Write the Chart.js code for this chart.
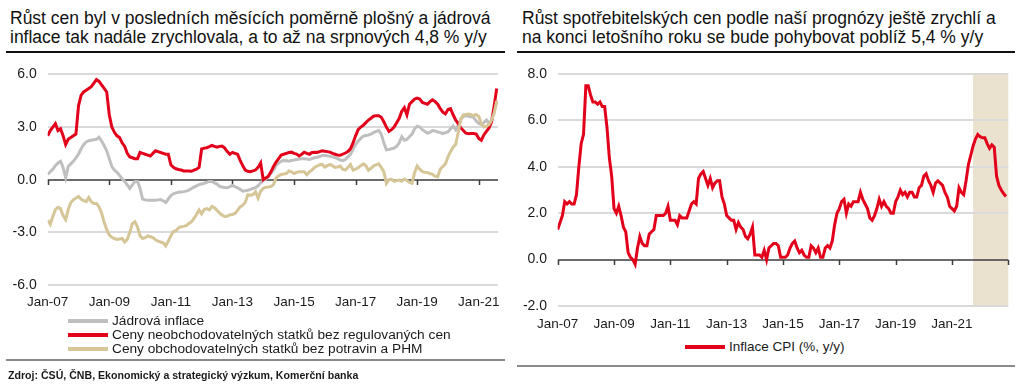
<!DOCTYPE html>
<html><head><meta charset="utf-8">
<script src="https://cdn.jsdelivr.net/npm/chart.js@4.4.1/dist/chart.umd.min.js"></script>
<style>
body{margin:0;width:1024px;height:390px;background:#fff;overflow:hidden;position:relative;font-family:"Liberation Sans",Arial,sans-serif;color:#1a1a1a}
.title{position:absolute;top:9px;font-size:17.5px;line-height:19px;color:#111;white-space:nowrap}
.rule{position:absolute;height:2px;background:#111}
.grule{position:absolute;height:2px;background:#8a8a8a}
canvas{position:absolute}
.lg{position:absolute;font-size:13.7px;line-height:14px;white-space:nowrap;color:#1a1a1a}
.lgline{position:absolute;height:4px;width:40px}
.src{position:absolute;left:8px;top:369px;font-size:10.6px;font-weight:bold;color:#1a1a1a;white-space:nowrap;line-height:12px}
</style></head><body>
<div class="title" style="left:10px">Růst cen byl v posledních měsících poměrně plošný a jádrová<br>inflace tak nadále zrychlovala, a to až na srpnových 4,8 % y/y</div>
<div class="title" style="left:522px">Růst spotřebitelských cen podle naší prognózy ještě zrychlí a<br>na konci letošního roku se bude pohybovat poblíž 5,4 % y/y</div>
<div class="rule" style="left:6px;top:51px;width:499px"></div>
<div class="rule" style="left:517px;top:51px;width:498px"></div>
<canvas id="c1" width="512" height="260" style="left:0;top:55px;width:512px;height:260px"></canvas>
<canvas id="c2" width="512" height="280" style="left:512px;top:55px;width:512px;height:280px"></canvas>
<div id="leg1"></div>
<div class="grule" style="left:6px;top:359px;width:499px"></div>
<div class="src">Zdroj: ČSÚ, ČNB, Ekonomický a strategický výzkum, Komerční banka</div>
<div class="lgline" style="left:685px;top:345px;background:#E2001A"></div>
<div class="lg" style="left:729px;top:340px;font-size:13.5px">Inflace CPI (%, y/y)</div>
<div class="grule" style="left:517px;top:365px;width:498px"></div>
<script>
// ---- Left chart data (monthly, Jan-07 .. Aug-21) ----
const jadrovaInflace = [
 0.3,0.45,0.6,0.8,0.95,1.05,0.7,0.1,0.75,0.9,1.05,1.25,
 1.45,1.75,2.0,2.15,2.22,2.25,2.28,2.3,2.42,2.2,1.95,1.65,
 1.2,0.75,0.55,0.42,0.25,0.05,-0.1,-0.3,-0.5,-0.3,-0.1,-0.1,
 -0.5,-1.1,-1.15,-1.17,-1.17,-1.17,-1.17,-1.15,-1.13,-1.2,-1.3,-1.1,
 -0.9,-0.8,-0.75,-0.72,-0.7,-0.68,-0.65,-0.6,-0.5,-0.42,-0.35,-0.28,
 -0.25,-0.2,-0.15,-0.1,-0.1,-0.18,-0.25,-0.38,-0.42,-0.45,-0.46,-0.4,
 -0.33,-0.4,-0.46,-0.55,-0.65,-0.63,-0.6,-0.55,-0.5,-0.45,-0.35,-0.18,
 -0.05,0.02,0.2,0.35,0.55,0.8,0.95,1.05,1.1,1.08,1.05,1.1,
 1.12,1.15,1.18,1.2,1.2,1.18,1.15,1.2,1.25,1.28,1.32,1.38,
 1.38,1.36,1.33,1.3,1.26,1.2,1.12,1.09,1.15,1.3,1.45,1.75,
 2.0,2.2,2.35,2.48,2.52,2.55,2.6,2.68,2.75,2.8,2.6,2.1,
 1.7,1.72,1.76,1.8,1.9,2.1,2.45,2.25,2.3,2.45,2.6,2.9,
 3.05,3.0,2.85,2.75,2.65,2.7,2.8,2.78,2.72,2.68,2.63,2.68,
 2.72,2.9,3.05,2.85,3.1,3.45,3.6,3.65,3.62,3.58,3.55,3.35,
 3.2,3.15,3.25,3.4,3.2,3.4,3.9,4.5
];
const neobchodovatelne = [
 2.5,2.8,3.0,3.2,2.8,2.9,2.5,2.0,2.3,2.4,2.5,2.6,
 4.2,4.8,5.0,5.1,5.2,5.3,5.5,5.7,5.6,5.4,5.2,5.0,
 3.7,3.0,2.7,2.5,2.4,2.1,1.9,1.5,1.3,1.25,1.2,1.2,
 1.55,1.5,1.45,1.4,1.35,1.5,1.65,1.6,1.55,1.5,1.45,1.45,
 0.85,0.7,0.62,0.58,0.55,0.5,0.5,0.5,0.48,0.55,0.6,0.7,
 1.75,1.8,1.82,1.88,1.95,1.9,1.85,1.9,1.92,1.8,1.6,1.45,
 1.55,1.5,1.45,1.1,0.8,0.55,0.48,0.46,0.5,0.55,0.7,0.95,
 0.0,0.1,0.2,0.45,0.75,1.0,1.2,1.4,1.45,1.5,1.55,1.57,
 1.5,1.46,1.35,1.45,1.57,1.5,1.45,1.55,1.57,1.55,1.6,1.65,
 1.62,1.6,1.57,1.5,1.45,1.4,1.39,1.45,1.52,1.6,1.76,2.1,
 2.5,2.85,3.0,3.1,3.25,3.4,3.5,3.62,3.65,3.65,3.56,3.3,
 3.0,2.75,2.85,3.0,3.25,3.5,3.9,4.1,3.7,4.3,4.45,4.6,
 4.65,4.6,4.4,4.35,4.3,4.45,4.55,4.45,4.3,4.05,3.85,3.75,
 4.0,4.05,3.7,3.4,3.2,2.95,2.8,2.65,2.62,2.63,2.63,2.6,
 2.35,2.25,2.55,2.75,2.95,3.3,4.2,5.2
];
const obchodovatelne = [
 -2.3,-2.55,-2.1,-1.7,-1.57,-1.65,-2.05,-2.28,-1.7,-1.3,-1.15,-1.05,
 -0.95,-1.1,-1.2,-1.25,-1.02,-1.25,-1.35,-1.35,-1.55,-1.9,-2.43,-2.85,
 -3.15,-3.28,-3.35,-3.4,-3.38,-3.35,-3.55,-3.4,-3.0,-2.5,-2.4,-2.7,
 -3.2,-3.35,-3.3,-3.2,-3.25,-3.3,-3.42,-3.5,-3.55,-3.6,-3.78,-3.5,
 -3.2,-2.95,-2.9,-2.75,-2.68,-2.66,-2.62,-2.5,-2.4,-2.2,-2.0,-1.72,
 -1.95,-1.7,-1.65,-1.72,-1.52,-1.6,-1.75,-1.9,-2.02,-2.1,-2.08,-2.0,
 -1.98,-1.92,-1.75,-1.55,-1.45,-1.3,-0.85,-0.88,-0.85,-0.7,-1.05,-0.65,
 -0.5,-0.43,-0.42,-0.39,-0.28,0.1,0.22,0.3,0.33,0.35,0.5,0.45,
 0.35,0.42,0.46,0.46,0.45,0.28,0.45,0.55,0.7,0.78,0.85,0.87,
 0.72,0.8,0.87,0.8,0.7,0.72,0.78,0.6,0.55,0.7,0.87,0.55,
 0.6,0.68,0.8,0.9,0.8,0.54,0.65,0.78,0.85,0.91,0.7,0.45,
 -0.22,0.0,0.02,-0.09,-0.05,-0.02,-0.09,0.04,-0.05,-0.15,-0.2,0.4,
 0.78,0.6,0.46,0.43,0.41,0.35,0.3,0.2,0.17,0.6,0.75,0.9,
 1.3,1.6,1.85,2.0,2.7,3.45,3.7,3.72,3.74,3.7,3.65,3.72,
 3.6,3.2,3.0,3.05,3.13,3.4,3.8,4.5
];
const leftTickPos = [0,24,48,72,96,120,144,168];
const leftTickLabels = ['Jan-07','Jan-09','Jan-11','Jan-13','Jan-15','Jan-17','Jan-19','Jan-21'];
const leftSeriesNames = ['Jádrová inflace','Ceny neobchodovatelných statků bez regulovaných cen','Ceny obchodovatelných statků bez potravin a PHM'];
const leftColors = ['#BFBFBF','#E2001A','#D6C597'];

// ---- Right chart data (monthly, Jan-07 .. Dec-22, forecast from Sep-21) ----
const inflaceCPI = [
 1.3,1.6,1.9,2.5,2.4,2.5,2.4,2.4,2.8,4.0,5.0,5.4,
 7.5,7.5,7.1,6.8,6.8,6.7,6.8,6.6,6.6,5.7,4.4,3.6,
 2.2,2.0,2.3,1.9,1.4,1.2,0.3,0.1,0.0,-0.2,0.5,1.0,
 0.7,0.6,0.6,1.1,1.2,1.3,1.9,1.9,1.9,1.9,2.0,2.3,
 1.7,1.7,1.7,1.5,1.9,1.8,1.8,1.8,2.1,2.4,2.5,2.4,
 3.5,3.7,3.8,3.5,3.2,3.5,3.1,3.3,3.4,3.4,2.7,2.4,
 1.9,1.8,1.7,1.7,1.3,1.6,1.4,1.3,1.0,0.9,1.1,1.4,
 0.2,0.2,0.2,0.1,0.4,0.0,0.5,0.6,0.7,0.7,0.6,0.1,
 0.1,0.1,0.2,0.5,0.7,0.8,0.5,0.3,0.4,0.2,0.1,0.1,
 0.6,0.5,0.3,0.5,0.1,0.1,0.5,0.6,0.5,0.8,1.5,2.0,
 2.2,2.5,2.6,2.0,2.4,2.3,2.5,2.5,2.5,2.9,2.6,2.4,
 2.2,1.8,1.7,1.9,2.2,2.6,2.3,2.5,2.3,2.2,2.0,2.0,
 2.5,2.7,3.0,2.8,2.9,2.7,2.9,2.9,2.7,2.7,3.1,3.2,
 3.6,3.7,3.4,3.2,2.9,3.3,3.4,3.3,3.2,2.9,2.7,2.3,
 2.2,2.1,2.3,3.1,2.9,2.8,3.4,4.1,4.5,4.9,5.2,5.4,
 5.3,5.25,5.25,5.0,4.8,4.95,4.85,3.6,3.2,3.0,2.85,2.72
];
const rightTickPos = [0,24,48,72,96,120,144,168,192];
const rightTickLabels = ['Jan-07','Jan-09','Jan-11','Jan-13','Jan-15','Jan-17','Jan-19','Jan-21',''];
const forecastFrom = 177, forecastTo = 192;
const rightSeriesName = 'Inflace CPI (%, y/y)';

Chart.defaults.font.family = '"Liberation Sans", Arial, sans-serif';
Chart.defaults.color = '#1a1a1a';

const toPts = arr => arr.map((v,i)=>({x:i,y:v}));

const zeroAxis = {
  id:'zeroAxis',
  beforeDatasetsDraw(chart, args, opts){
    const {ctx, chartArea, scales:{x,y}} = chart;
    const y0 = Math.round(y.getPixelForValue(0));
    ctx.save();
    ctx.strokeStyle = '#3c3c3c';
    ctx.lineWidth = 1.5;
    ctx.beginPath();
    ctx.moveTo(chartArea.left, y0); ctx.lineTo(chartArea.right, y0);
    (opts.ticks||[]).forEach(v=>{
      const px = Math.round(x.getPixelForValue(v))+0.5;
      ctx.moveTo(px, y0); ctx.lineTo(px, y0+5);
    });
    ctx.stroke();
    ctx.restore();
  }
};
const shade = {
  id:'shade',
  beforeDraw(chart, args, opts){
    if(opts.from==null) return;
    const {ctx, chartArea, scales:{x}} = chart;
    const a = x.getPixelForValue(opts.from), b = x.getPixelForValue(opts.to);
    ctx.save(); ctx.fillStyle = opts.color;
    ctx.fillRect(a, chartArea.top, b-a, chartArea.bottom-chartArea.top);
    ctx.restore();
  }
};

function makeOptions(cfg){
  return {
    responsive:false, animation:false, events:[],
    layout:{padding:{top:14,right:cfg.padRight,left:0,bottom:0}},
    plugins:{legend:{display:false},tooltip:{enabled:false},
      zeroAxis:{ticks:cfg.tickPos}, shade:cfg.shade||{}},
    scales:{
      x:{type:'linear',min:0,max:cfg.xMax,
        afterBuildTicks:s=>{s.ticks=cfg.tickPos.map(v=>({value:v}));},
        afterFit:s=>{s.height=cfg.xH;},
        grid:{display:false,drawTicks:false},border:{display:false},
        ticks:{autoSkip:false,maxRotation:0,padding:cfg.xPad,font:{size:13.5},color:'#1a1a1a',
          callback:(v,i)=>cfg.tickLabels[i]}},
      y:{min:cfg.yMin,max:cfg.yMax,
        afterBuildTicks:s=>{const t=[];for(let v=cfg.yMin;v<=cfg.yMax+1e-9;v+=cfg.yStep)t.push({value:v});s.ticks=t;},
        afterFit:s=>{s.width=cfg.yW;},
        grid:{drawTicks:false,lineWidth:2,color:c=>c.tick.value===0?'rgba(0,0,0,0)':'#DADADA'},
        border:{display:false},
        ticks:{padding:cfg.yPad,font:{size:14},color:'#1a1a1a',callback:v=>v.toFixed(1)}}
    }
  };
}

new Chart(document.getElementById('c1'),{
  type:'line',
  data:{datasets:[
    {label:leftSeriesNames[0],data:toPts(jadrovaInflace),borderColor:leftColors[0],borderWidth:3,pointRadius:0,order:2},
    {label:leftSeriesNames[1],data:toPts(neobchodovatelne),borderColor:leftColors[1],borderWidth:3,pointRadius:0,order:1},
    {label:leftSeriesNames[2],data:toPts(obchodovatelne),borderColor:leftColors[2],borderWidth:3,pointRadius:0,order:0}
  ]},
  options:makeOptions({padRight:14,xMax:175.5,xH:30,xPad:9,tickPos:leftTickPos,tickLabels:leftTickLabels,
    yMin:-6,yMax:6,yStep:3,yW:47.7,yPad:11}),
  plugins:[zeroAxis,shade]
});

new Chart(document.getElementById('c2'),{
  type:'line',
  data:{datasets:[
    {label:rightSeriesName,data:toPts(inflaceCPI),borderColor:'#E2001A',borderWidth:3,pointRadius:0}
  ]},
  options:makeOptions({padRight:15.7,xMax:192,xH:29,xPad:10,tickPos:rightTickPos,tickLabels:rightTickLabels,
    yMin:-2,yMax:8,yStep:2,yW:45.7,yPad:10.7,shade:{from:forecastFrom,to:forecastTo,color:'#EAE2CE'}}),
  plugins:[zeroAxis,shade]
});

// HTML legend for left chart (vertical list)
const legRows = [320.7, 334.8, 349.2];
const leg = document.getElementById('leg1');
leftSeriesNames.forEach((n,i)=>{
  const l = document.createElement('div'); l.className='lgline';
  l.style.left='68px'; l.style.top=(legRows[i]-2)+'px'; l.style.background=leftColors[i];
  const t = document.createElement('div'); t.className='lg';
  t.style.left='112px'; t.style.top=(legRows[i]-7)+'px'; t.textContent=n;
  leg.appendChild(l); leg.appendChild(t);
});
</script>
</body></html>
